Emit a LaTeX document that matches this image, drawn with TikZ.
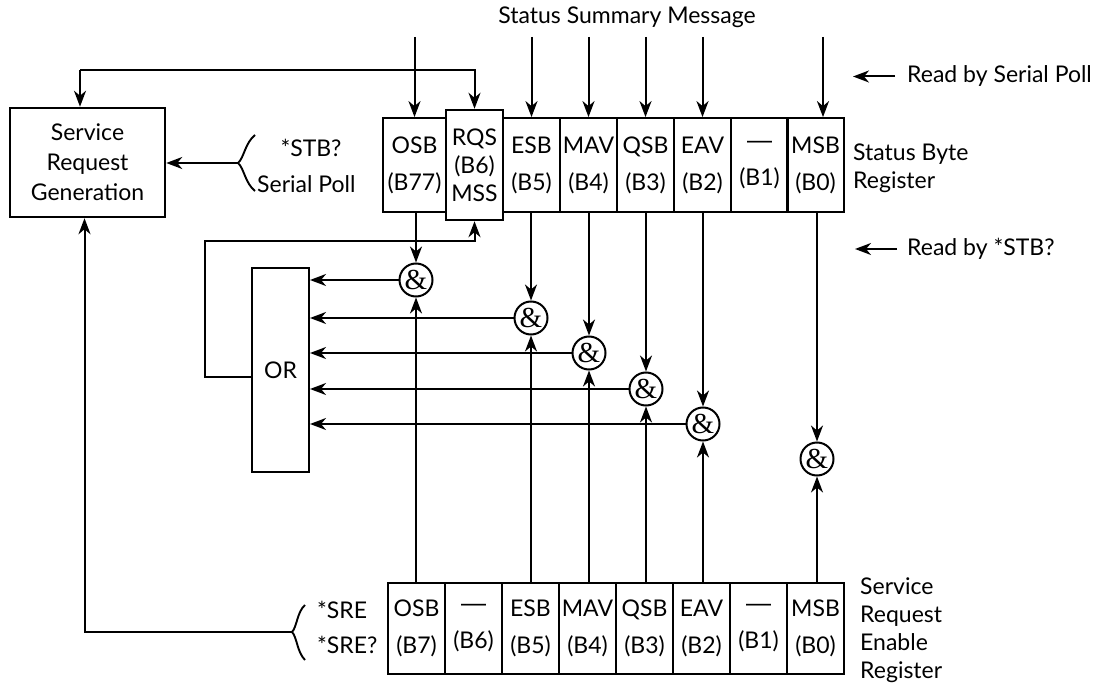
\documentclass[tikz,border=0pt]{standalone}
\usepackage{fontspec}
\setmainfont{Lato}
\newfontfamily\ampfont{Liberation Serif}
\newfontfamily\dashfont{Liberation Sans}
\usetikzlibrary{arrows.meta}
\tikzstyle{bitcell} = [rectangle, draw=black, line width=1.8pt, minimum width=57pt, minimum height=94pt, inner sep=0pt, align=center]
\tikzstyle{enacell} = [bitcell, minimum height=91pt]
\tikzstyle{gate} = [circle, draw=black, line width=2pt, minimum size=33pt, inner sep=0pt, font=\ampfont\fontsize{29}{29}\selectfont]
\tikzstyle{orbox} = [rectangle, draw=black, line width=2pt, minimum width=57pt, minimum height=204pt]
\tikzstyle{srgbox} = [rectangle, draw=black, line width=2.5pt, minimum width=155pt, minimum height=109pt, align=center, font=\fontsize{23}{30}\selectfont]
\tikzstyle{txt} = [inner sep=0pt, align=left]
\tikzstyle{arrow} = [line width=2pt, -{Stealth[length=16pt, width=12pt, inset=5pt]}]
\tikzstyle{brace} = [line width=1.9pt]
\newcommand{\nobit}{{\dashfont\fontsize{25}{28}\selectfont —}}

\begin{document}
\begin{tikzpicture}[x=1pt, y=-1pt, font=\fontsize{23}{28}\selectfont]
      \useasboundingbox (0,0) rectangle (1115,684);
      % Nodes
      \node (srg) [srgbox] at (87.5,162.5) {Service\\Request\\Generation};
      \node (osum) [txt, anchor=base] at (627,24) {Status Summary Message};
      % status byte register
      \node (sOSB) [bitcell, minimum width=63pt] at (414.5,165) {OSB\\[9pt](B77)};
      \node (rqs) [bitcell, minimum height=110pt, line width=2.5pt] at (474.5,165) {RQS\\(B6)\\MSS};
      \foreach \n/\l/\b/\x in {ESB/ESB/B5/531.5, MAV/MAV/B4/588.5, QSB/QSB/B3/645.5, EAV/EAV/B2/702.5, B1/\nobit/B1/759.5, MSB/MSB/B0/815.5}
        \node (s\n) [bitcell] at (\x,165) {\l\\[9pt](\b)};
      % service request enable register
      \foreach \n/\l/\b/\x in {OSB/OSB/B7/416.5, B6/\nobit/B6/473.5, ESB/ESB/B5/530.5, MAV/MAV/B4/587.5, QSB/QSB/B3/644.5, EAV/EAV/B2/701.5, B1/\nobit/B1/758.5, MSB/MSB/B0/815.5}
        \node (e\n) [enacell] at (\x,628.5) {\l\\[9pt](\b)};
      % gates
      \node (orgate) [orbox] at (280.5,370) {\raisebox{-7pt}{OR}};
      \foreach \n/\x/\y in {OSB/416/280, ESB/531/318, MAV/589/353, QSB/646/389, EAV/703/424, MSB/817/459}
        \node (and\n) [gate] at (\x,\y) {\&};
      % side texts
      \node (rsp) [txt, anchor=base west] at (907,83) {Read by Serial Poll};
      \node (sbr) [txt, anchor=west] at (853,168) {Status Byte\\Register};
      \node (rstb) [txt, anchor=west] at (907,249) {Read by *STB?};
      \node (srer) [txt, anchor=west] at (860,630) {Service\\Request\\Enable\\Register};
      \node (stbq) [txt, anchor=base] at (311,157) {*STB?};
      \node (spoll) [txt, anchor=base west] at (257,193) {Serial Poll};
      \node (sre) [txt, anchor=base west] at (317,618) {*SRE};
      \node (sreq) [txt, anchor=base west] at (317,653) {*SRE?};
      % braces
      \coordinate (stbtip) at (238,163);
      \draw [brace] (255,135) .. controls (245,143) and (244,158) .. (stbtip) .. controls (244,168) and (245,183) .. (255,191);
      \coordinate (sretip) at (292,632);
      \draw [brace] (305,605) .. controls (297,612) and (297,627) .. (sretip) .. controls (297,637) and (297,652) .. (305,660);
      % Arrows
      \coordinate (ssm) at (0,37);
      \foreach \n in {OSB,ESB,MAV,QSB,EAV}
        \draw [arrow] (ssm -| s\n.north) -- (s\n.north);
      \coordinate (msbin) at (823,37);
      \draw [arrow] (msbin) -- (msbin |- sMSB.north);
      \coordinate (loop) at (80,70);
      \draw [arrow] (loop) -| (rqs.north);
      \draw [arrow] (loop) -- (loop |- srg.north);
      \coordinate (orloop) at (205,241);
      \draw [arrow] ([yshift=-7pt]orgate.west) -| (orloop) -| (rqs.south);
      \foreach \n in {OSB,ESB,MAV,QSB,EAV,MSB} {
        \draw [arrow] (and\n |- s\n.south) -- (and\n.north);
        \draw [arrow] (and\n |- e\n.north) -- (and\n.south);
      }
      \foreach \n in {OSB,ESB,MAV,QSB,EAV}
        \draw [arrow] (and\n.west) -- (and\n.west -| orgate.east);
      \draw [arrow] (stbtip) -- (stbtip -| srg.east);
      \draw [arrow] (sretip) -| ([xshift=-3pt]srg.south);
      \draw [arrow] ([xshift=-12pt]rsp.west) -- ([xshift=-54pt]rsp.west);
      \draw [arrow] ([xshift=-10pt]rstb.west) -- ([xshift=-52pt]rstb.west);
\end{tikzpicture}
\end{document}
